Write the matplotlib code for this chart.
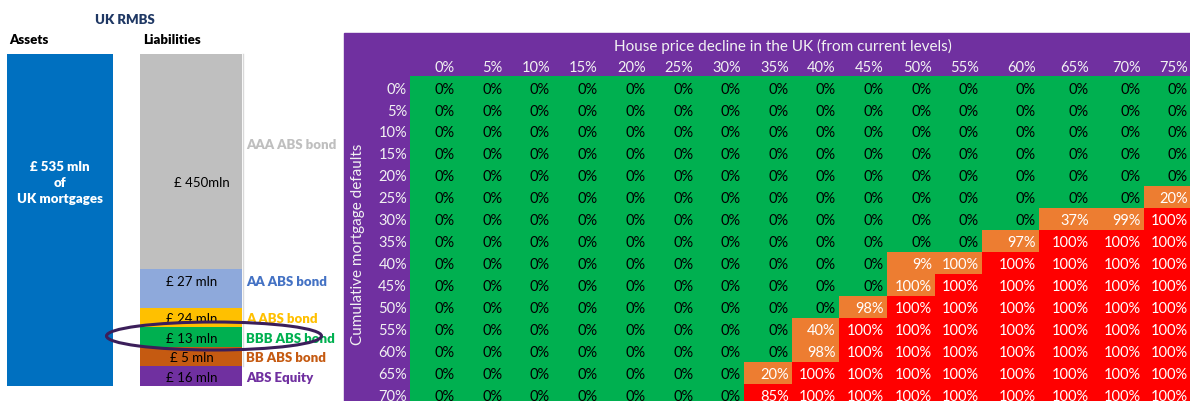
import numpy as np
import matplotlib.pyplot as plt
from matplotlib.colors import ListedColormap
from matplotlib.patches import Ellipse, Rectangle

plt.rcParams['font.family'] = ['Lato', 'DejaVu Sans']

# --- data -------------------------------------------------------------
tranches = ['AAA ABS bond', 'AA ABS bond', 'A ABS bond', 'BBB ABS bond',
            'BB ABS bond', 'ABS Equity']
tranche_mln = [450, 27, 24, 13, 5, 16]
tranche_text = ['£ 450mln', '£ 27 mln', '£ 24 mln', '£ 13 mln', '£ 5 mln', '£ 16 mln']
assets_mln = 535

house_price_decline = [0, 5, 10, 15, 20, 25, 30, 35, 40, 45, 50, 55, 60, 65, 70, 75]
mortgage_defaults = [0, 5, 10, 15, 20, 25, 30, 35, 40, 45, 50, 55, 60, 65, 70]

# loss on the BBB tranche (%), rows = defaults, cols = house price decline
bbb_loss = [
    [0] * 16,
    [0] * 16,
    [0] * 16,
    [0] * 16,
    [0] * 16,
    [0] * 15 + [20],
    [0] * 13 + [37, 99, 100],
    [0] * 12 + [97, 100, 100, 100],
    [0] * 10 + [9, 100, 100, 100, 100, 100],
    [0] * 10 + [100, 100, 100, 100, 100, 100],
    [0] * 9 + [98, 100, 100, 100, 100, 100, 100],
    [0] * 8 + [40, 100, 100, 100, 100, 100, 100, 100],
    [0] * 8 + [98, 100, 100, 100, 100, 100, 100, 100],
    [0] * 7 + [20, 100, 100, 100, 100, 100, 100, 100, 100],
    [0] * 7 + [85, 100, 100, 100, 100, 100, 100, 100, 100],
]
# cells flagged as partial loss (orange) as (defaults, decline)
partial_cells = [(25, 75), (30, 65), (30, 70), (35, 60), (40, 50), (40, 55),
                 (45, 50), (50, 45), (55, 40), (60, 40), (65, 35)]

# --- layout (pixels) ----------------------------------------------------
W, H = 1190, 402
col_w = [47.7] * 7 + [48, 47, 48, 48, 47, 57, 53, 52, 47]
grid_x0, grid_y0, row_h = 410, 77, 22
tranche_h = [215, 39, 19, 20, 19, 20]
tranche_colors = ['#BFBFBF', '#8EA9DB', '#FFC000', '#00B050', '#C55A11', '#7030A0']
label_colors = ['#BFBFBF', '#4472C4', '#FFC000', '#00B050', '#C55A11', '#7030A0']
amount_y = [183, 282, 319, 339, 358, 378]
name_y = [145, 282, 319, 339, 358, 378]

fig = plt.figure(figsize=(W / 100, H / 100), dpi=100)
ax = fig.add_axes([0, 0, 1, 1])
ax.set_xlim(0, W)
ax.set_ylim(H, 0)
ax.axis('off')

# --- left: RMBS structure ---------------------------------------------
ax.text(125, 20, 'UK RMBS', color='#1F3864', fontsize=9.5, fontweight='heavy',
        ha='center', va='center')
ax.text(9, 40, 'Assets', fontsize=9.5, fontweight='heavy', va='center')
ax.text(143, 40, 'Liabilities', fontsize=9.5, fontweight='heavy', va='center')

ax.bar(60, 332, width=106, bottom=55, color='#0070C0')
ax.text(60, 183, '£ %d mln\nof\nUK mortgages' % assets_mln, color='white',
        fontsize=9.5, fontweight='heavy', ha='center', va='center', linespacing=1.4)

bottoms = 55 + np.concatenate([[0], np.cumsum(tranche_h)[:-1]])
ax.bar([191] * 6, tranche_h, width=102, bottom=bottoms, color=tranche_colors)
ax.plot([243, 243], [55, 367], color='#D9D9D9', lw=1)
for i, name in enumerate(tranches):
    xt = 202 if i == 0 else 192
    ax.text(xt, amount_y[i], tranche_text[i], fontsize=9.5, ha='center', va='center')
    ax.text(246, name_y[i], name, color=label_colors[i], fontsize=9.5,
            fontweight='heavy', va='center')

ax.add_patch(Ellipse((214, 337), 215, 28, fill=False, ec='#3B1E5A', lw=2.2, zorder=5))

# --- right: stress-test heatmap ---------------------------------------
ax.add_patch(Rectangle((344, 34), W - 344, H - 34, color='#7030A0', zorder=0))

loss = np.array(bbb_loss, dtype=float)
status = np.where(loss > 0, 2, 0)
for d, h in partial_cells:
    status[mortgage_defaults.index(d), house_price_decline.index(h)] = 1

x_edges = grid_x0 + np.concatenate([[0], np.cumsum(col_w)])
y_edges = grid_y0 + row_h * np.arange(len(mortgage_defaults) + 1)
cmap = ListedColormap(['#00B050', '#ED7D31', '#FF0000'])
ax.pcolormesh(x_edges, y_edges, status, cmap=cmap, vmin=-0.5, vmax=2.5, zorder=1)

light = '#F2F2F2'
for j, h in enumerate(house_price_decline):
    ax.text(x_edges[j + 1] - 3, 68, '%d%%' % h, color=light, fontsize=10.5,
            ha='right', va='center')
for i, d in enumerate(mortgage_defaults):
    yc = y_edges[i] + row_h / 2 + 1.5
    ax.text(grid_x0 - 3, yc, '%d%%' % d, color=light, fontsize=10.5,
            ha='right', va='center')
    for j in range(len(house_price_decline)):
        tc = 'black' if status[i, j] == 0 else 'white'
        ax.text(x_edges[j + 1] - 3, yc, '%d%%' % loss[i, j], color=tc,
                fontsize=10.5, ha='right', va='center', zorder=2)

ax.text(783, 46, 'House price decline in the UK (from current levels)',
        color=light, fontsize=11, ha='center', va='center')
ax.text(358, 244, 'Cumulative mortgage defaults', color=light, fontsize=11,
        rotation=90, ha='center', va='center')

fig.savefig('out.png', dpi=100)
